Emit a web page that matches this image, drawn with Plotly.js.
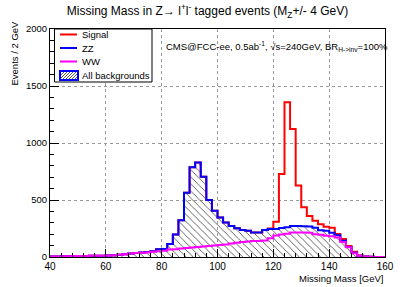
<!DOCTYPE html>
<html><head><meta charset="utf-8">
<script src="https://cdn.plot.ly/plotly-3.0.1.min.js"></script>
<style>html,body{margin:0;padding:0;background:#fff}#chart{width:415px;height:287px}</style>
</head><body><div id="chart"></div>
<script>
// Bin edges of the missing-mass histogram (GeV), 2 GeV bins
const massEdges = [40,42,44,46,48,50,52,54,56,58,60,62,64,66,68,70,72,74,76,78,80,82,84,86,88,90,92,94,96,98,100,
  102,104,106,108,110,112,114,116,118,120,122,124,126,128,130,132,134,136,138,140,142,144,146,148,150,152,154,156,158,160];

// WW background (events / 2 GeV)
const wwEvents = [5,5,6,7,8,9,9,10,11,12, 14,16,20,24,30,34,38,40,47,50,
  55,65,68,74,78,84,88,92,96,100, 105,110,118,124,132,136,140,141,145,165,
  188,198,205,214,216,216,213,200,196,186, 182,172,132,85,32,12,4,2,1,1];
// ZZ background (stacked on WW)
const zzEvents = [0,0,0,0,0,0,0,0,0,0, 0,0,0,1,1,2,2,3,3,17,
  15,49,129,248,486,703,742,612,404,305, 242,192,155,128,105,94,76,75,92,80,
  58,56,57,58,56,54,55,57,39,45, 31,18,11,3,6,0,0,0,0,0];
// Signal (stacked on all backgrounds)
const signalEvents = [0,0,0,0,0,0,0,0,0,0, 0,0,0,0,0,0,0,0,0,0,
  0,0,0,0,0,0,0,0,0,0, 0,0,0,0,0,0,0,0,0,5,
  64,474,1095,851,356,166,92,62,52,35, 44,12,15,8,9,2,1,0,0,0];

const legendLabels = ["Signal","ZZ","WW","All backgrounds"];
const xTicks = [40,60,80,100,120,140,160];
const yTicks = [0,500,1000,1500,2000];

const FONT = "Liberation Sans, Arial, Helvetica, sans-serif";
const bkg = wwEvents.map((v,i)=>v+zzEvents[i]);
const tot = bkg.map((v,i)=>v+signalEvents[i]);
const stepY = a => a.concat([a[a.length-1]]);

const traces = [
  {x:massEdges, y:stepY(bkg), mode:'lines', line:{shape:'hv', width:0, color:'rgba(0,0,0,0)'},
   fill:'tozeroy', fillcolor:'rgba(255,255,255,0)',
   fillpattern:{shape:'\\', fgcolor:'#333', bgcolor:'rgba(255,255,255,0)', size:5, solidity:0.15},
   hoverinfo:'skip', showlegend:false},
  {x:massEdges, y:stepY(tot), mode:'lines', line:{shape:'hv', width:2, color:'#ff0000'}, name:legendLabels[0]},
  {x:massEdges, y:stepY(bkg), mode:'lines', line:{shape:'hv', width:2, color:'#0000ff'}, name:legendLabels[1]},
  {x:massEdges, y:stepY(wwEvents), mode:'lines', line:{shape:'hv', width:2, color:'#ff00ff'}, name:legendLabels[2]}
];

const PL=50, PR=385, PT=29, PB=257;
const px2x = p => (p-PL)/(PR-PL);
const py2y = p => (PB-p)/(PB-PT);

// legend decorations
const shapes = [
  {type:'rect', xref:'paper', yref:'paper', x0:px2x(54.5), x1:px2x(152), y0:py2y(82), y1:py2y(29),
   line:{color:'#000', width:1}, fillcolor:'#fff', layer:'above'},
  {type:'line', xref:'paper', yref:'paper', x0:px2x(60), x1:px2x(77), y0:py2y(34.5), y1:py2y(34.5), line:{color:'#ff0000', width:2}, layer:'above'},
  {type:'line', xref:'paper', yref:'paper', x0:px2x(60), x1:px2x(77), y0:py2y(48), y1:py2y(48), line:{color:'#0000ff', width:2}, layer:'above'},
  {type:'line', xref:'paper', yref:'paper', x0:px2x(60), x1:px2x(77), y0:py2y(61.5), y1:py2y(61.5), line:{color:'#ff00ff', width:2}, layer:'above'},
  {type:'rect', xref:'paper', yref:'paper', x0:px2x(60), x1:px2x(78), y0:py2y(80), y1:py2y(71),
   line:{color:'#0000ff', width:2}, fillcolor:'#fff', layer:'above'}
];
(function(){
  const x0=61, x1=77, yt=72, yb=79, h=yb-yt;
  let path='';
  for(let a=x0-h; a<x1; a+=3){
    const s0=Math.max(0,x0-a), s1=Math.min(h,x1-a);
    if(s1>s0){
      path += 'M'+px2x(a+s0)+','+py2y(yb-s0)+' L'+px2x(a+s1)+','+py2y(yb-s1)+' ';
    }
  }
  shapes.push({type:'path', xref:'paper', yref:'paper', path:path, line:{color:'#555', width:1}, layer:'above'});
})();

const ann = (text, xp, yp, opts) => Object.assign({text:text, xref:'paper', yref:'paper', x:px2x(xp), y:py2y(yp),
  showarrow:false, font:{family:FONT, size:9.5, color:'#000'}, xanchor:'left', yanchor:'middle'}, opts||{});

const annotations = [
  ann(legendLabels[0], 80, 34.5),
  ann(legendLabels[1], 80, 48),
  ann(legendLabels[2], 80, 61.5),
  ann(legendLabels[3], 80, 75.5),
  ann('CMS@FCC-ee, 0.5ab<sup>-1</sup>, √s=240GeV, BR<sub>H->inv</sub>=100%', 164, 46),
  ann('Missing Mass [GeV]', 385, 278, {xanchor:'right'}),
  ann('Events / 2 GeV', 14, 19, {textangle:-90, xanchor:'center', yanchor:'top'})
];

const layout = {
  width:415, height:287,
  margin:{l:PL, r:415-PR, t:PT, b:287-PB, pad:0},
  paper_bgcolor:'#fff', plot_bgcolor:'#fff', showlegend:false,
  title:{text:'Missing Mass in Z→ l<sup>+</sup>l<sup>-</sup> tagged events (M<sub>Z</sub>+/- 4 GeV)',
    x:0.5, xanchor:'center', y:1-11/287, yanchor:'middle', yref:'container',
    font:{family:FONT, size:12, color:'#000'}},
  xaxis:{range:[40,160], tickmode:'array', tickvals:xTicks, ticktext:xTicks.map(String),
    ticks:'inside', ticklen:8, tickwidth:1, tickcolor:'#000',
    showline:true, linecolor:'#000', linewidth:1, mirror:true,
    showgrid:true, gridcolor:'#999', griddash:'dot', gridwidth:1, zeroline:false,
    tickfont:{family:FONT, size:10, color:'#000'},
    minor:{ticks:'inside', dtick:4, tick0:40, ticklen:4, tickcolor:'#000', showgrid:false}},
  yaxis:{range:[0,2000], tickmode:'array', tickvals:yTicks, ticktext:yTicks.map(String),
    ticks:'inside', ticklen:9, tickwidth:1, tickcolor:'#000',
    showline:true, linecolor:'#000', linewidth:1, mirror:true,
    showgrid:true, gridcolor:'#999', griddash:'dot', gridwidth:1, zeroline:false,
    tickfont:{family:FONT, size:9.5, color:'#000'},
    minor:{ticks:'inside', dtick:100, tick0:0, ticklen:4, tickcolor:'#000', showgrid:false}},
  shapes:shapes, annotations:annotations
};
Plotly.newPlot('chart', traces, layout, {staticPlot:true, displayModeBar:false});
</script></body></html>
